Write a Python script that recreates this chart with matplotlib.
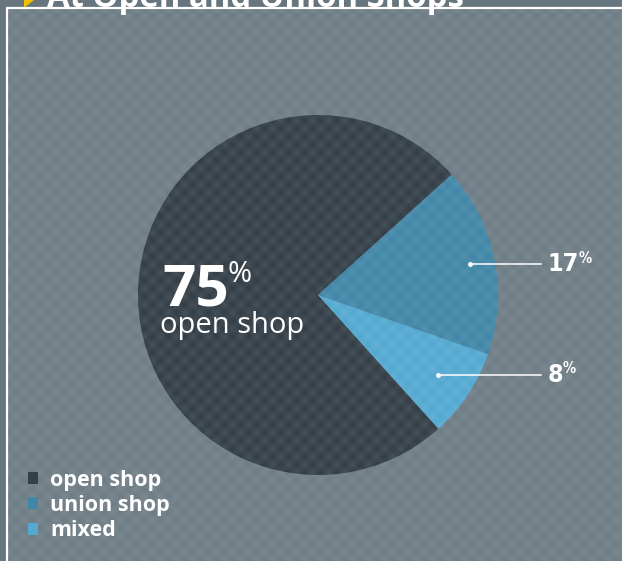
import numpy as np
import matplotlib.pyplot as plt
from matplotlib.patches import Rectangle, Polygon, Patch

# share of workers by shop type
labels = ["open shop", "union shop", "mixed"]
shares = [75, 17, 8]
colors = ["#343f48", "#4287a8", "#54a9d1"]
title = "At Open and Union Shops"

W, H = 622, 561
fig = plt.figure(figsize=(W / 100, H / 100), dpi=100)
fig.patch.set_facecolor("#66757e")

# background in pixel coordinates
bg = fig.add_axes([0, 0, 1, 1], zorder=0)
bg.set_xlim(0, W)
bg.set_ylim(H, 0)
bg.axis("off")
bg.add_patch(Rectangle((7, 8), W, H, color="#6f7d86", lw=0))
bg.plot([7, 7], [7.5, H], color="white", lw=1.6, solid_capstyle="butt")
bg.plot([6.2, W], [7.5, 7.5], color="white", lw=1.6, solid_capstyle="butt")
bg.add_patch(Polygon([(24, -8), (24, 8), (34, 0)], color="#f2c200", lw=0))
bg.text(47, 7, title, color="white", fontsize=23.7, fontweight="bold",
        family="Open Sans", va="baseline", ha="left")

# pie: centre (318, 295), radius 180 px; open shop runs clockwise from -48 deg
cx, cy, r = 318, 295, 180
ax = fig.add_axes([(cx - r) / W, (H - cy - r) / H, 2 * r / W, 2 * r / H], zorder=1)
wedges, _ = ax.pie(shares, colors=colors, startangle=-48, counterclock=False,
                   radius=1, wedgeprops=dict(linewidth=0))
ax.set_xlim(-1, 1)
ax.set_ylim(-1, 1)
ax.axis("off")

# leader lines for the small slices
narrow = dict(family="DejaVu Sans", stretch="condensed")
for w, v, rr in zip(wedges[1:], shares[1:], [0.86, 0.8]):
    mid = np.deg2rad((w.theta1 + w.theta2) / 2)
    x0, y0 = rr * np.cos(mid), rr * np.sin(mid)
    x1 = (541 - cx) / r
    ax.plot([x0, x1], [y0, y0], color="white", lw=1.1, clip_on=False)
    ax.plot([x0], [y0], "o", color="white", ms=2.5, clip_on=False)
    t = ax.text(x1 + 0.035, y0, str(v), color="white", fontsize=18,
                fontweight="bold", va="center", ha="left", **narrow)
    ax.annotate("%", xy=(1, 1), xycoords=t, xytext=(0, 1),
                textcoords="offset points", color="white", fontsize=10.5,
                fontweight="bold", va="top", ha="left", **narrow)

# big label for the main slice
big = ax.text((162 - cx) / r, (cy - 305) / r, str(shares[0]), color="white",
              fontsize=42, fontweight="bold", family="Open Sans",
              va="baseline", ha="left")
ax.annotate("%", xy=(1, 1), xycoords=big, xytext=(-1, 1),
            textcoords="offset points", color="white", fontsize=21,
            family="Open Sans", va="top", ha="left")
ax.text((160 - cx) / r, (cy - 333) / r, labels[0], color="white",
        fontsize=21, family="Open Sans", va="baseline", ha="left")

# subtle dotted texture over everything inside the frame
yy, xx = np.mgrid[8:H, 7:W]
tex = np.cos(2 * np.pi * xx / 16) * np.cos(2 * np.pi * yy / 16)
rgba = np.ones(tex.shape + (4,))
rgba[..., 3] = 0.04 + 0.045 * tex
ov = fig.add_axes([0, 0, 1, 1], zorder=2)
ov.set_xlim(0, W)
ov.set_ylim(H, 0)
ov.axis("off")
ov.imshow(rgba, extent=(7, W, H, 8), interpolation="bilinear", aspect="auto")

# legend
handles = [Patch(facecolor=c, edgecolor="none") for c in colors]
leg = ov.legend(handles, labels, loc="upper left",
                bbox_to_anchor=(17 / W, 1 - 459 / H), frameon=False,
                handlelength=0.48, handleheight=0.48, handletextpad=0.55,
                labelspacing=0.2, borderpad=0,
                prop=dict(family="Open Sans", weight="bold", size=15.5))
for txt in leg.get_texts():
    txt.set_color("white")

fig.savefig("out.png", dpi=100, facecolor=fig.get_facecolor())
